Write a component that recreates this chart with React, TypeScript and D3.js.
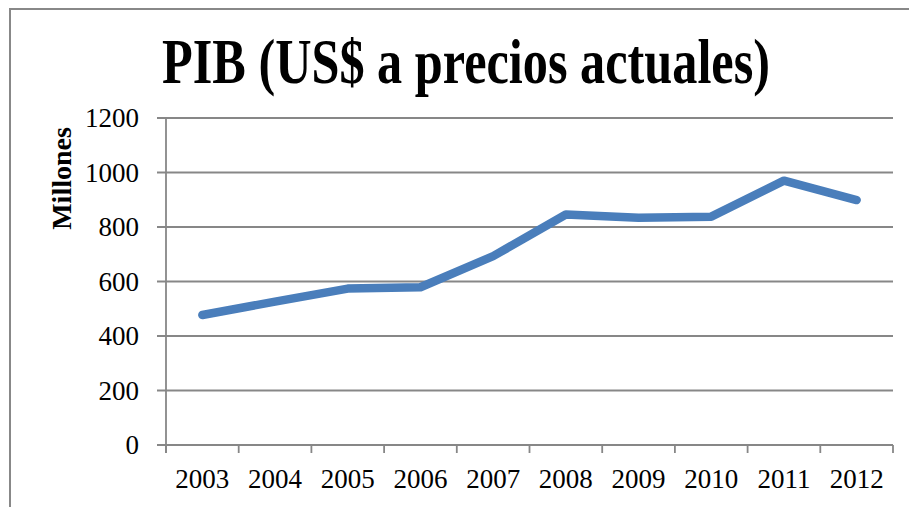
import React from "react";
import * as d3 from "d3";

const years = ["2003", "2004", "2005", "2006", "2007", "2008", "2009", "2010", "2011", "2012"];
const gdp = [477, 526, 574, 579, 693, 846, 834, 838, 970, 899];
const yTicks = [0, 200, 400, 600, 800, 1000, 1200];
const title = "PIB (US$ a precios actuales)";
const yLabel = "Millones";

const W = 909;
const H = 507;
const left = 166;
const right = 893;
const top = 118;
const bottom = 445;

export default function App() {
  const x = d3.scaleBand<string>().domain(years).range([left, right]);
  const y = d3.scaleLinear().domain([0, 1200]).range([bottom, top]);
  const line = d3
    .line<number>()
    .x((_, i) => (x(years[i]) as number) + x.bandwidth() / 2)
    .y((d) => y(d));
  const grid = "#878787";
  const font = "'Liberation Serif', 'DejaVu Serif', serif";
  const edges = [...years.map((yr) => x(yr) as number), right];

  return (
    <svg
      width={W}
      height={H}
      style={{ position: "absolute", left: 0, top: 0, background: "#fff" }}
    >
      <rect x={0} y={0} width={W} height={H} fill="#fff" />
      {/* outer border */}
      <path d={`M10,${H + 5} L10,9 L${W + 5},9`} fill="none" stroke="#888" strokeWidth={2} />
      <text
        x={466}
        y={83}
        textAnchor="middle"
        fontFamily={font}
        fontWeight="bold"
        fontSize={63}
        textLength={608}
        lengthAdjust="spacingAndGlyphs"
        fill="#000"
      >
        {title}
      </text>
      <text
        transform={`translate(71,178.5) rotate(-90)`}
        textAnchor="middle"
        fontFamily={font}
        fontWeight="bold"
        fontSize={28}
        fill="#000"
      >
        {yLabel}
      </text>
      {/* gridlines and y ticks */}
      {yTicks.map((t) => (
        <g key={t}>
          <line x1={157} x2={right} y1={y(t)} y2={y(t)} stroke={grid} strokeWidth={1.8} />
          <text
            x={139}
            y={y(t)}
            dy="0.35em"
            textAnchor="end"
            fontFamily={font}
            fontSize={27}
            fill="#000"
          >
            {t}
          </text>
        </g>
      ))}
      {/* y axis */}
      <line x1={left} x2={left} y1={top} y2={bottom + 8} stroke={grid} strokeWidth={1.8} />
      {/* x ticks */}
      {edges.map((e, i) => (
        <line key={i} x1={e} x2={e} y1={bottom} y2={bottom + 8} stroke={grid} strokeWidth={1.8} />
      ))}
      {years.map((yr) => (
        <text
          key={yr}
          x={(x(yr) as number) + x.bandwidth() / 2}
          y={488}
          textAnchor="middle"
          fontFamily={font}
          fontSize={27}
          fill="#000"
        >
          {yr}
        </text>
      ))}
      <path
        d={line(gdp) || ""}
        fill="none"
        stroke="#4a7ebb"
        strokeWidth={8.5}
        strokeLinejoin="round"
        strokeLinecap="round"
      />
    </svg>
  );
}
